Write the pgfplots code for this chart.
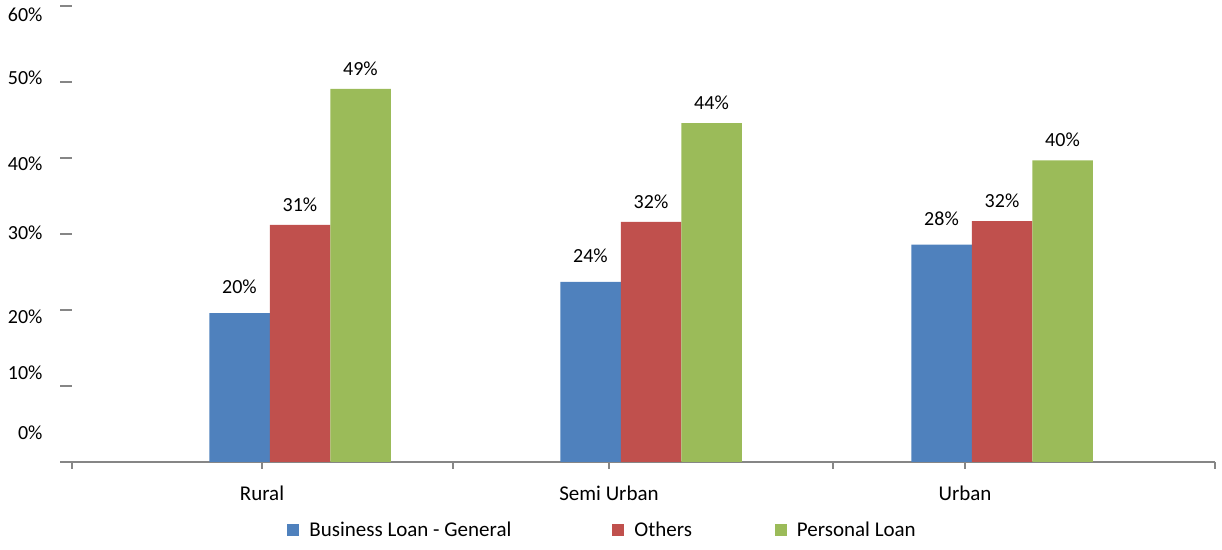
\documentclass[border=0pt]{standalone}
\usepackage{pgfplots}
\pgfplotsset{compat=1.18}
\usepackage{fontspec}
\setmainfont{Carlito}
\definecolor{cblue}{HTML}{4F81BD}
\definecolor{cred}{HTML}{C0504D}
\definecolor{cgreen}{HTML}{9BBB59}
\definecolor{axgray}{HTML}{868686}
\begin{document}
\begin{tikzpicture}
\begin{axis}[
  at={(0,0)}, anchor=south west,
  scale only axis, width=571.5pt, height=228pt,
  xmin=72, xmax=1215, ymin=0, ymax=60,
  axis lines*=left,
  y axis line style={draw=none},
  x axis line style={draw=axgray, line width=0.8pt},
  tick align=outside,
  ytick={0,10,...,60}, yticklabels={},
  ytick style={draw=axgray, line width=0.8pt},
  major tick length=6pt,
  xtick={72,453,833,1215}, xticklabels={},
  xtick style={draw=axgray, line width=0.8pt, /pgfplots/major tick length=3.5pt},
  extra x ticks={262,609,965},
  extra x tick labels={Rural, Semi Urban, Urban},
  extra x tick style={/pgfplots/major tick length=0pt, xticklabel style={yshift=-8.5pt, font=\fontsize{10.5}{12}\selectfont}},
  extra y ticks={3.8,11.7,19.1,30.1,39.3,50.5,58.8},
  extra y tick labels={0\%,10\%,20\%,30\%,40\%,50\%,60\%},
  extra y tick style={/pgfplots/major tick length=0pt, yticklabel style={xshift=-11.2pt, font=\fontsize{10}{12}\selectfont}},
  ybar, bar width=30.25pt, bar shift=0pt,
  point meta=explicit symbolic,
  nodes near coords=\pgfplotspointmeta,
  every node near coord/.append style={font=\fontsize{10}{12}\selectfont, text=black},
  legend columns=3,
  legend image code/.code={\fill[#1] (0pt,-3pt) rectangle (6pt,3pt);},
  legend style={draw=none, fill=none, at={(0.1881,-0.150)}, anchor=west,
    inner sep=0pt, font=\fontsize{10.5}{12}\selectfont,
    nodes={inner sep=0pt},
    /tikz/column 1/.style={column sep=5pt},
    /tikz/column 2/.style={column sep=50.5pt},
    /tikz/column 3/.style={column sep=5pt},
    /tikz/column 4/.style={column sep=41.5pt},
    /tikz/column 5/.style={column sep=5pt}},
]
\addplot[fill=cblue, draw=none, every node near coord/.append style={yshift=6pt}] coordinates {(239.5,19.6) [20\%] (590.5,23.7) [24\%] (941.5,28.6) [28\%]};
\addplot[fill=cred, draw=none, every node near coord/.append style={yshift=3.2pt}] coordinates {(300,31.2) [31\%] (651,31.6) [32\%] (1002,31.7) [32\%]};
\addplot[fill=cgreen, draw=none, every node near coord/.append style={yshift=3.2pt}] coordinates {(360.5,49.1) [49\%] (711.5,44.6) [44\%] (1062.5,39.7) [40\%]};
\legend{Business Loan - General, Others, Personal Loan}
\end{axis}
\pgfresetboundingbox
\path (-36pt,-44pt) rectangle (575pt,231pt);
\end{tikzpicture}
\end{document}
